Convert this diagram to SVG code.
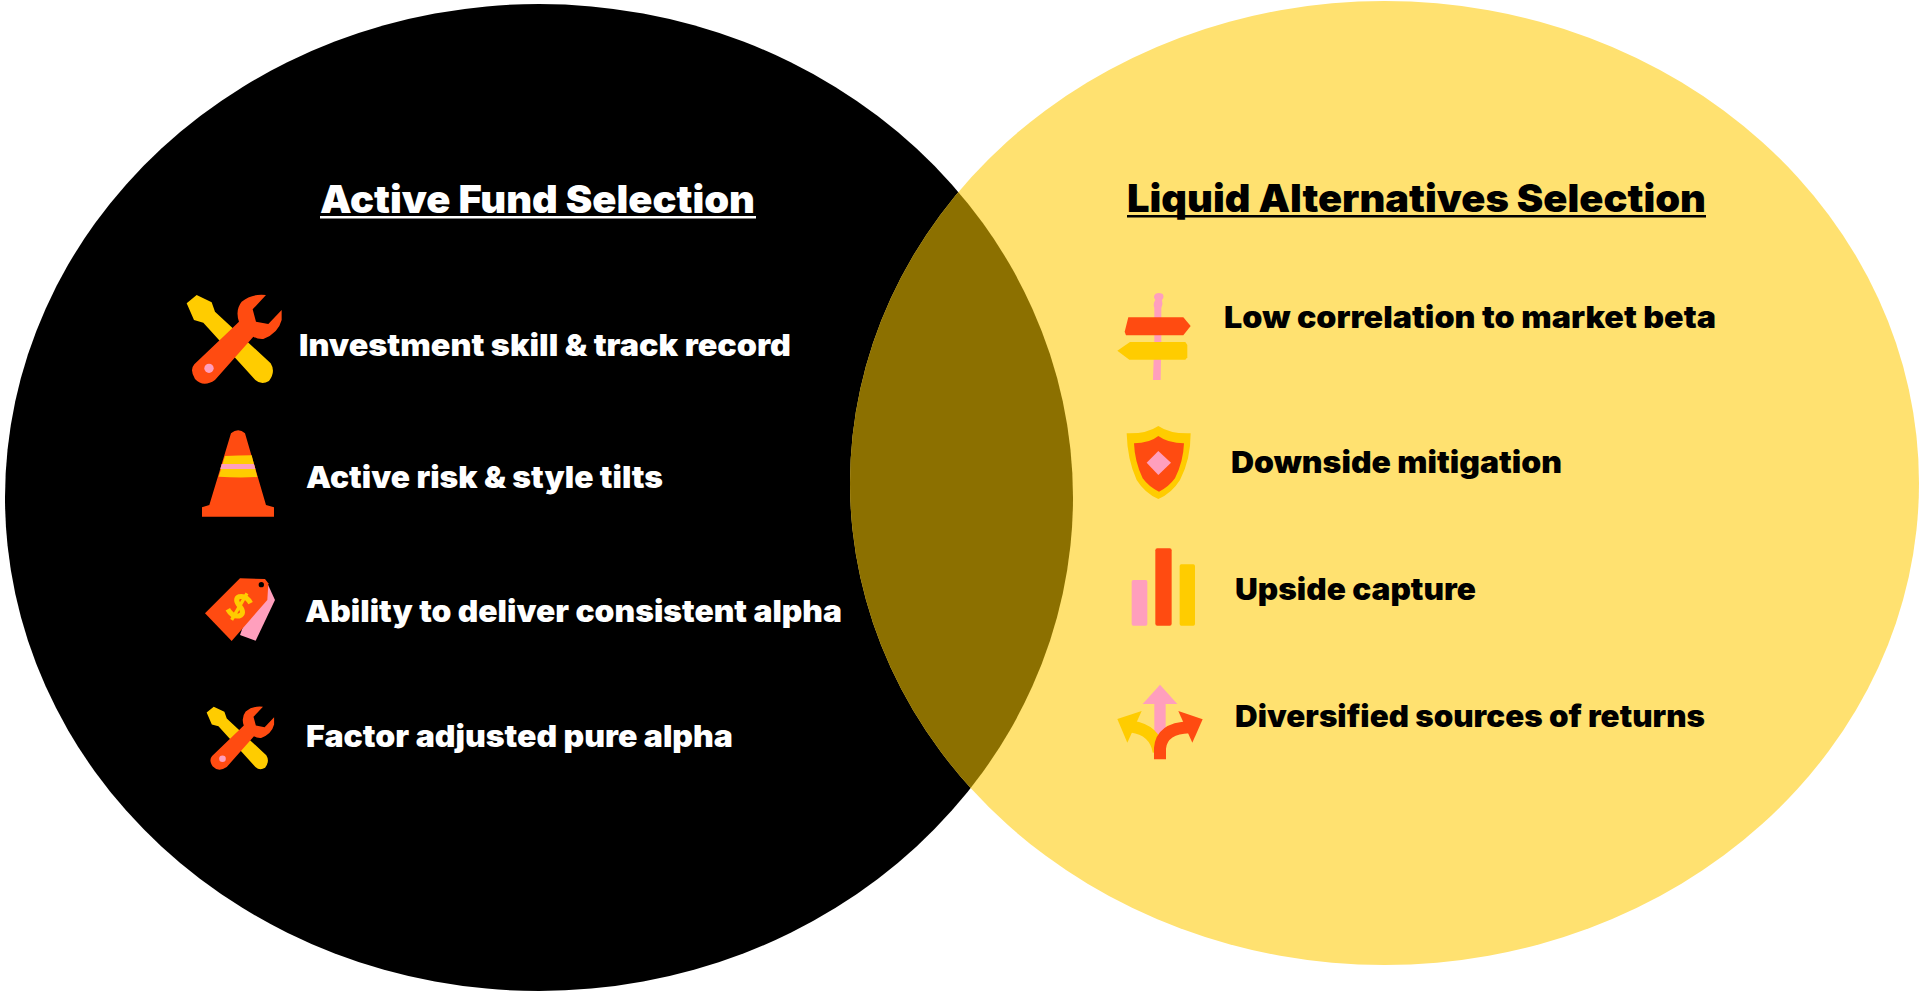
<svg xmlns="http://www.w3.org/2000/svg" width="1921" height="995" viewBox="0 0 1921 995">
<style>
text{font-family:"Inter","Liberation Sans",sans-serif;font-weight:900}
.t{font-size:30px;letter-spacing:0}
.h{font-size:39px}
.w{fill:#fff}.k{fill:#000}
.o{fill:#ff4b11}.y{fill:#ffcc00}.p{fill:#ff9fbd}
</style>
<defs>
<clipPath id="lc"><ellipse cx="539" cy="497.5" rx="534" ry="493.5"/></clipPath>
<g id="wrench">
<path class="y" d="M50 100L80 75L125 97L135 125L302 280Q318 305 297 333Q275 347 256 330L100 158L72 150Z"/>
<path class="o" d="M288 75L248 118L258 155L295 162L335 120L335 150Q325 190 280 207Q262 208 250 200L135 330Q100 354 75 327Q58 300 73 283L207 155Q195 120 215 95Q245 70 288 75Z"/>
<circle class="p" cx="117" cy="295" r="14"/>
</g>
</defs>
<g id="circles">
<ellipse cx="539" cy="497.5" rx="534" ry="493.5" fill="#000"/>
<ellipse cx="1384.5" cy="483" rx="534.5" ry="482" fill="#ffe170"/>
<ellipse cx="1384.5" cy="483" rx="534.5" ry="482" fill="#8c7000" clip-path="url(#lc)"/>
</g>
<g id="active-fund-title">
<text class="h w" x="320" y="213" textLength="435" lengthAdjust="spacingAndGlyphs">Active Fund Selection</text>
<rect x="320" y="216" width="436" height="2.5" fill="#fff"/>
</g>
<g id="liquid-alt-title">
<text class="h k" x="1127" y="212" textLength="579" lengthAdjust="spacingAndGlyphs">Liquid Alternatives Selection</text>
<rect x="1127" y="215" width="579" height="2.5" fill="#000"/>
</g>
<g id="investment-skill">
<g transform="translate(170 270) scale(.3333)"><use href="#wrench"/></g>
<text class="t w" x="299" y="356" textLength="492" lengthAdjust="spacingAndGlyphs">Investment skill &amp; track record</text>
</g>
<g id="active-risk">
<g transform="translate(170 270) scale(.3333)">
<path class="o" d="M183 490Q205 472 225 490L288 705L312 712V740H96V712L118 705Z"/>
<path class="y" d="M165 558Q205 556 245 556L262 621Q205 624 146 620Z"/>
<path class="p" d="M155 582H252L256 597H151Z"/>
</g>
<text class="t w" x="306" y="488" textLength="357" lengthAdjust="spacingAndGlyphs">Active risk &amp; style tilts</text>
</g>
<g id="consistent-alpha">
<g transform="translate(190 560) scale(.3333)">
<path class="p" d="M232 70L255 120L197 242L150 225L180 140Z"/>
<path class="o" d="M150 55L225 57L235 70L232 120L125 243L45 160Z"/>
<circle class="k" cx="214" cy="74" r="8"/>
<g transform="rotate(30 148 140)" fill="none" stroke="#ffcc00">
<path stroke-width="15" d="M172 114Q150 100 133 114Q122 128 148 138Q174 148 162 164Q145 178 122 164"/>
<path stroke-width="10" d="M148 94V186"/>
</g>
</g>
<text class="t w" x="305" y="622" textLength="537" lengthAdjust="spacingAndGlyphs">Ability to deliver consistent alpha</text>
</g>
<g id="factor-alpha">
<g transform="translate(194.8 688.9) scale(.2367)"><use href="#wrench"/></g>
<text class="t w" x="306" y="747" textLength="427" lengthAdjust="spacingAndGlyphs">Factor adjusted pure alpha</text>
</g>
<g id="low-correlation">
<g transform="translate(1100 280) scale(.3333)">
<path class="p" d="M166 42Q176 36 188 42Q194 52 186 60Q190 72 184 84V180L182 300H159L163 180V84Q158 72 166 60Q158 50 166 42Z"/>
<path class="o" d="M85 112H250L272 138L250 166H78L74 155Z"/>
<path class="y" d="M90 186H256L262 195V232L256 239H88L52 212Z"/>
</g>
<text class="t k" x="1224" y="328" textLength="492" lengthAdjust="spacingAndGlyphs">Low correlation to market beta</text>
</g>
<g id="downside">
<g transform="translate(1100 280) scale(.3333)">
<path class="y" d="M175 438Q210 462 272 460Q272 540 240 600Q215 640 175 657Q135 640 110 600Q82 540 80 460Q140 462 175 438Z"/>
<path class="o" d="M175 468Q205 490 252 490Q250 545 225 595Q205 622 177 635Q148 622 128 595Q104 545 102 490Q148 490 175 468Z"/>
<path class="p" d="M175 513L213 548L175 585L140 548Z"/>
</g>
<text class="t k" x="1231" y="473" textLength="331" lengthAdjust="spacingAndGlyphs">Downside mitigation</text>
</g>
<g id="upside">
<g transform="translate(1100 530) scale(.3333)">
<rect class="p" x="95" y="150" width="47" height="137" rx="5"/>
<rect class="o" x="166" y="55" width="49" height="232" rx="6"/>
<rect class="y" x="239" y="103" width="46" height="184" rx="5"/>
</g>
<text class="t k" x="1235" y="600" textLength="241" lengthAdjust="spacingAndGlyphs">Upside capture</text>
</g>
<g id="diversified">
<g transform="translate(1100 530) scale(.3333)">
<path class="p" d="M180 464L232 522H197V620H163V522H128Z"/>
<path fill="none" stroke="#ffcc00" stroke-width="36" d="M176 665Q165 600 95 590"/>
<path class="y" d="M52 567L125 543L82 638Z"/>
<path fill="none" stroke="#ff4b11" stroke-width="36" d="M180 688V655Q185 595 268 592"/>
<path class="o" d="M308 568L235 543L277 638Z"/>
</g>
<text class="t k" x="1235" y="727" textLength="470" lengthAdjust="spacingAndGlyphs">Diversified sources of returns</text>
</g>
</svg>
